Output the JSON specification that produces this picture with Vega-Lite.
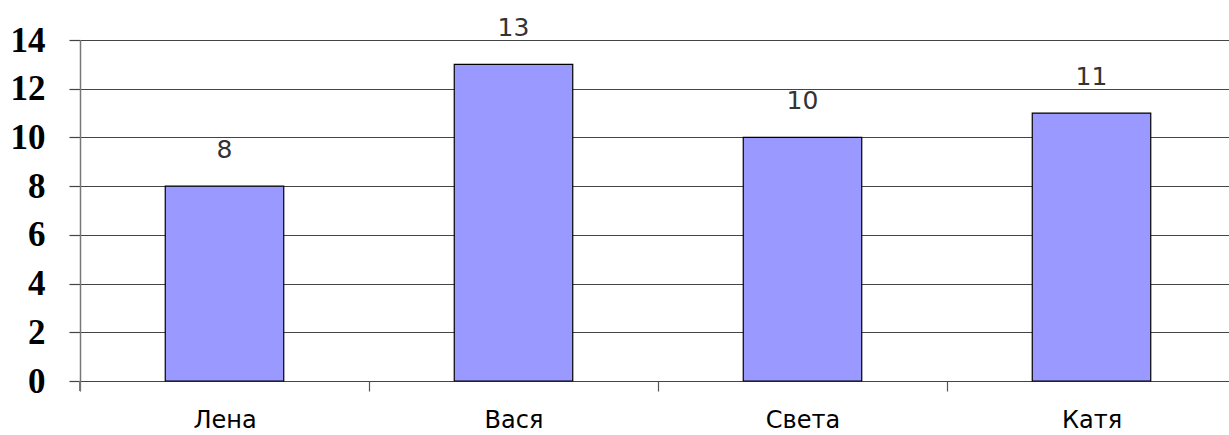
{
  "$schema": "https://vega.github.io/schema/vega-lite/v6.json",
  "autosize": {"type": "none"},
  "padding": {"left": 80, "top": 40, "right": 0, "bottom": 54},
  "width": 1156,
  "height": 341,
  "background": "white",
  "config": {"view": {"stroke": null}},
  "data": {"values": [
    {"name": "Лена", "value": 8},
    {"name": "Вася", "value": 13},
    {"name": "Света", "value": 10},
    {"name": "Катя", "value": 11}
  ]},
  "encoding": {
    "x": {
      "field": "name", "type": "nominal", "sort": null,
      "scale": {"paddingInner": 0, "paddingOuter": 0},
      "axis": {
        "title": null, "labelAngle": 0, "grid": false,
        "bandPosition": 0, "tickBand": "extent",
        "domain": false, "ticks": true, "tickSize": 10, "tickColor": "#555", "tickWidth": 1.2,
        "labelFont": "DejaVu Sans", "labelFontSize": 24, "labelColor": "#000",
        "labelPadding": 17
      }
    },
    "y": {
      "field": "value", "type": "quantitative",
      "scale": {"domain": [0, 14], "nice": false},
      "axis": {
        "title": null, "values": [0, 2, 4, 6, 8, 10, 12, 14],
        "grid": true, "gridColor": "#444", "gridWidth": 1.2, "gridOpacity": 1,
        "domain": true, "domainColor": "#777", "domainWidth": 1.5,
        "ticks": true, "tickSize": 11, "tickColor": "#444", "tickWidth": 1.2,
        "labelFont": "Liberation Serif", "labelFontWeight": "bold", "labelFontSize": 35,
        "labelColor": "#000", "labelPadding": 24, "labelBaseline": "middle"
      }
    }
  },
  "layer": [
    {
      "mark": {"type": "rule", "color": "#777", "strokeWidth": 1.5},
      "encoding": {"x": {"value": 0}, "y": {"value": 341}, "y2": {"value": 351}}
    },
    {
      "mark": {"type": "bar", "width": {"band": 0.41}, "fill": "#9999FF", "stroke": "#000", "strokeWidth": 1.2}
    },
    {
      "mark": {"type": "text", "font": "DejaVu Sans", "fontSize": 25, "color": "#333", "baseline": "alphabetic", "dy": -28},
      "encoding": {"text": {"field": "value", "type": "quantitative"}}
    }
  ]
}
